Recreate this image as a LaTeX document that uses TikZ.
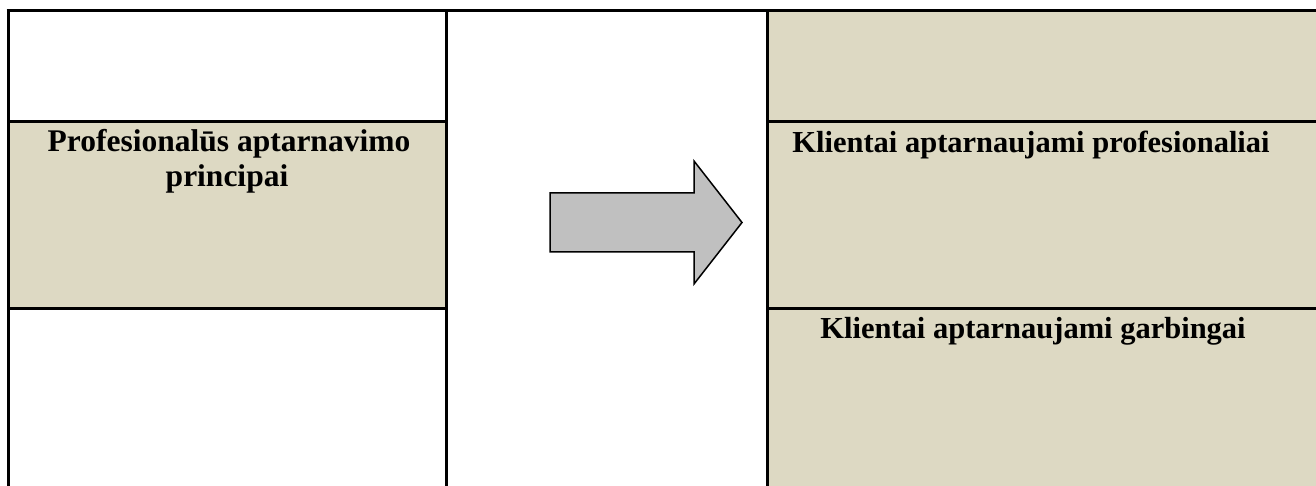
\documentclass[tikz,border=0pt]{standalone}
\usepackage{fontspec}
\setmainfont{Liberation Serif}
\definecolor{beige}{HTML}{DDD9C3}
\definecolor{arrowgray}{HTML}{C0C0C0}
\begin{document}
\begin{tikzpicture}[x=1pt,y=-1pt,
  rule/.style={line width=3pt},
  celltext/.style={font=\fontsize{31.5}{35}\selectfont\bfseries, anchor=base, inner sep=0pt, align=center},
  righttext/.style={celltext, font=\fontsize{30.5}{35}\selectfont\bfseries}]
\useasboundingbox (0,0) rectangle (1316,486);
\fill[white] (0,0) rectangle (1316,486);
% cell fills
\fill[beige] (8,122) rectangle (446,308);
\fill[beige] (767,11) rectangle (1316,486);
% table rules
\draw[rule] (6.5,11) -- (1316,11);
\draw[rule] (8,11) -- (8,486);
\draw[rule] (446,11) -- (446,486);
\draw[rule] (767,11) -- (767,486);
\draw[rule] (8,122) -- (446,122);
\draw[rule] (8,308) -- (446,308);
\draw[rule] (767,122) -- (1316,122);
\draw[rule] (767,308) -- (1316,308);
% texts
\node[celltext] (l1) at (229,152) {Profesionalūs aptarnavimo};
\node[celltext] (l2) at (227,187) {principai};
\node[righttext] (r1) at (1031,153) {Klientai aptarnaujami profesionaliai};
\node[righttext] (r2) at (1033,338) {Klientai aptarnaujami garbingai};
% arrow
\draw[fill=arrowgray, line width=1.5pt, line join=miter]
  (550,193) -- (694,193) -- (694,161) -- (742,222.5) -- (694,284) -- (694,252) -- (550,252) -- cycle;
\end{tikzpicture}
\end{document}
